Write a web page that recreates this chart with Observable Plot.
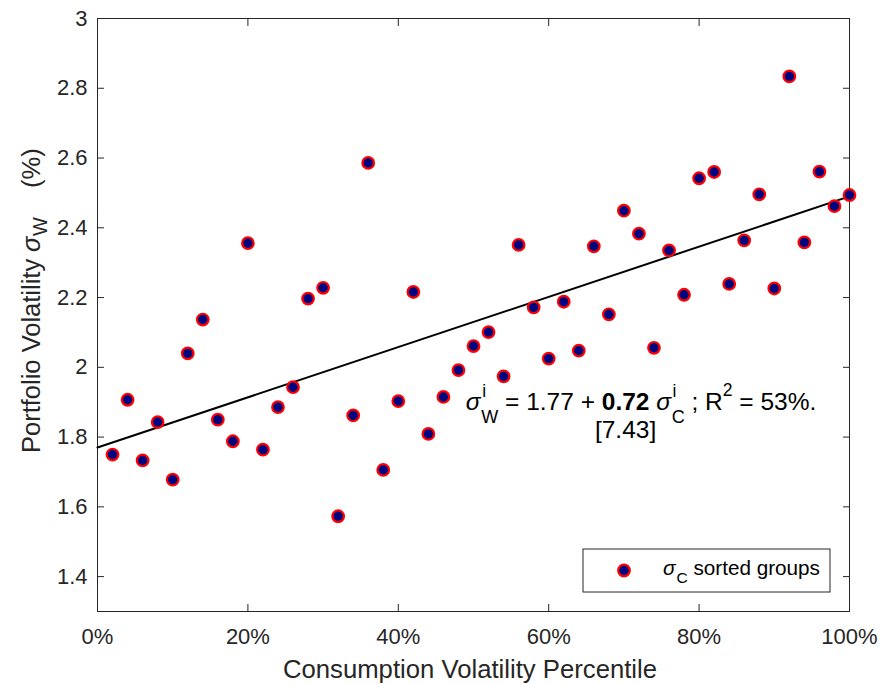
<!DOCTYPE html>
<html><head><meta charset="utf-8">
<script src="https://cdn.jsdelivr.net/npm/d3@7"></script>
<script src="https://cdn.jsdelivr.net/npm/@observablehq/plot@0.6"></script>
<style>
html,body{margin:0;padding:0;background:#fff}
#chart{width:881px;height:684px}
svg text{white-space:pre}
</style>
</head><body><div id="chart"></div>
<script>
// ---- data ----
const percentiles = [2,4,6,8,10,12,14,16,18,20,22,24,26,28,30,32,34,36,38,40,
  42,44,46,48,50,52,54,56,58,60,62,64,66,68,70,72,74,76,78,80,
  82,84,86,88,90,92,94,96,98,100];
const portfolioVol = [1.750,1.907,1.733,1.843,1.678,2.040,2.137,1.850,1.788,2.356,
  1.764,1.886,1.943,2.197,2.228,1.573,1.862,2.586,1.706,1.903,
  2.216,1.809,1.915,1.992,2.061,2.101,1.974,2.351,2.172,2.025,
  2.188,2.048,2.347,2.152,2.449,2.383,2.056,2.335,2.208,2.542,
  2.560,2.239,2.364,2.496,2.226,2.834,2.358,2.561,2.462,2.494];
const fitIntercept = "1.77";
const fitSlope = "0.72";
const fitTStat = "7.43";
const fitR2 = "53%";
const fitRange = [0, 100];
const xTicks = [0,20,40,60,80,100];
const xTickLabels = ["0%","20%","40%","60%","80%","100%"];
const yTicks = [1.4,1.6,1.8,2.0,2.2,2.4,2.6,2.8,3.0];
const yTickLabels = ["1.4","1.6","1.8","2","2.2","2.4","2.6","2.8","3"];
const xLabel = "Consumption Volatility Percentile";
const yLabelParts = ["Portfolio Volatility", "σ", "W", "(%)"];
const legendLabel = "sorted groups";

const points = percentiles.map((p, i) => ({p, v: portfolioVol[i]}));
const fitLine = fitRange.map(p => ({p, v: +fitIntercept + +fitSlope * p / 100}));

const font = "'Liberation Sans', Arial, Helvetica, sans-serif";
const axisColor = "#262626";
const W = 881, H = 684, mL = 97, mR = 32, mT = 18, mB = 73;

const chart = Plot.plot({
  width: W, height: H,
  marginLeft: mL, marginRight: mR, marginTop: mT, marginBottom: mB,
  style: {fontFamily: font, fontSize: "22px", color: axisColor, background: "#fff"},
  x: {domain: [0, 100]},
  y: {domain: [1.3, 3]},
  marks: [
    Plot.frame({stroke: axisColor, strokeWidth: 1}),
    Plot.axisX(xTicks, {anchor: "bottom", tickSize: -7, tickPadding: 24, label: null,
      tickFormat: d => xTickLabels[xTicks.indexOf(d)], fill: axisColor, stroke: axisColor}),
    Plot.axisX(xTicks, {anchor: "top", tickSize: -7, label: null, tickFormat: () => "", stroke: axisColor}),
    Plot.axisY(yTicks, {anchor: "left", tickSize: -7, tickPadding: 17, label: null,
      tickFormat: d => yTickLabels[yTicks.indexOf(d)], fill: axisColor, stroke: axisColor}),
    Plot.axisY(yTicks, {anchor: "right", tickSize: -7, label: null, tickFormat: () => "", stroke: axisColor}),
    Plot.line(fitLine, {x: "p", y: "v", stroke: "#000", strokeWidth: 2}),
    Plot.dot(points, {x: "p", y: "v", r: 5.8, fill: "#000080", stroke: "#ff0000", strokeWidth: 2.2})
  ]
});
document.getElementById("chart").appendChild(chart);

const svg = d3.select(chart);
const sx = chart.scale("x").apply, sy = chart.scale("y").apply;
const txt = (sel) => sel.append("text").attr("text-anchor", "start").attr("font-family", font);

// x label
txt(svg).attr("x", (mL + W - mR) / 2 - 3).attr("y", 678)
  .attr("text-anchor", "middle").attr("font-size", 25.7)
  .attr("fill", axisColor).text(xLabel);

// y label (rotated, pieces placed along the axis)
const ylab = (y, size, shift, text, italic) => {
  const t = txt(svg).attr("transform", `translate(${40 + shift},${y}) rotate(-90)`)
    .attr("font-size", size).attr("fill", axisColor).text(text);
  if (italic) t.attr("font-style", "italic");
};
ylab(453, 25.5, 0, yLabelParts[0]);
ylab(252, 25.5, 0, yLabelParts[1], true);
ylab(236, 20, 7, yLabelParts[2]);
ylab(188, 25.5, 0, yLabelParts[3]);

// equation
const eqX = sx(49.05), eqY = sy(1.876);
const eq = txt(svg).attr("x", eqX).attr("y", eqY).attr("font-size", 24.5).attr("fill", "#000");
eq.append("tspan").attr("font-style", "italic").text("σ");
eq.append("tspan").attr("font-size", 17.5).attr("dy", -13).attr("dx", 1.5).text("i");
eq.append("tspan").attr("font-size", 18).attr("dy", 26).attr("dx", -4.8).text("W");
eq.append("tspan").attr("dy", -13).text(" = " + fitIntercept + " + ");
const bold = eq.append("tspan").attr("font-weight", "bold").text(fitSlope);
eq.append("tspan").text(" ");
eq.append("tspan").attr("font-style", "italic").text("σ");
eq.append("tspan").attr("font-size", 17.5).attr("dy", -13).attr("dx", 1.5).text("i");
eq.append("tspan").attr("font-size", 18).attr("dy", 26).attr("dx", -4.8).text("C");
eq.append("tspan").attr("dy", -13).text(" ; R");
eq.append("tspan").attr("font-size", 17.5).attr("dy", -14).text("2");
eq.append("tspan").attr("dy", 14).text(" = " + fitR2 + ".");
const bn = bold.node();
const s0 = bn.getStartPositionOfChar(0), s1 = bn.getEndPositionOfChar(fitSlope.length - 1);
txt(svg).attr("x", (s0.x + s1.x) / 2).attr("y", eqY + 28)
  .attr("text-anchor", "middle").attr("font-size", 24.5)
  .attr("fill", "#000").text("[" + fitTStat + "]");

// legend
const lgR = W - mR - 19, lgB = H - mB - 19, lgW = 247, lgH = 43;
const lg = svg.append("g");
lg.append("rect").attr("x", lgR - lgW).attr("y", lgB - lgH).attr("width", lgW).attr("height", lgH)
  .attr("fill", "#fff").attr("stroke", axisColor).attr("stroke-width", 1);
lg.append("circle").attr("cx", lgR - lgW + 41).attr("cy", lgB - lgH / 2)
  .attr("r", 5.8).attr("fill", "#000080").attr("stroke", "#ff0000").attr("stroke-width", 2.2);
const lt = txt(lg).attr("x", lgR - lgW + 80).attr("y", lgB - 17)
  .attr("font-size", 20.7).attr("fill", "#000");
lt.append("tspan").attr("font-style", "italic").text("σ");
lt.append("tspan").attr("font-size", 15.5).attr("dy", 8).attr("dx", 1).text("C");
lt.append("tspan").attr("dy", -8).text(" " + legendLabel);
</script>
</body></html>
